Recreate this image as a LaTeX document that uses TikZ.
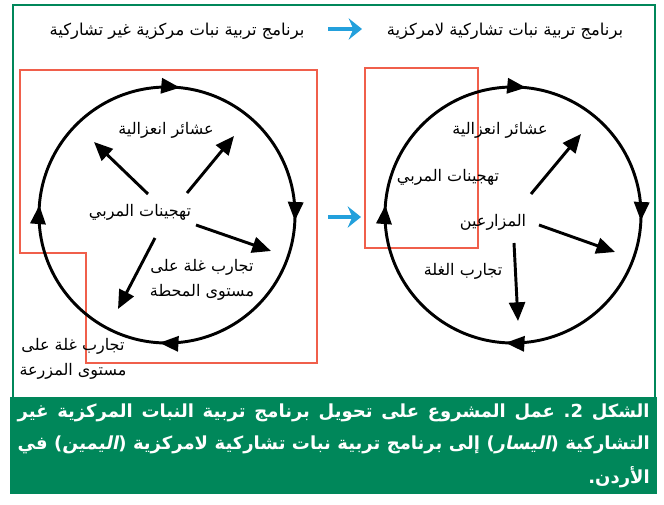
\documentclass[tikz,border=0pt]{standalone}
\usepackage{fontspec}
\usetikzlibrary{arrows.meta,decorations.markings,positioning}
\TeXXeTstate=1
\frenchspacing
\newfontfamily\arabicfont[Script=Arabic]{DejaVu Sans}
\newfontfamily\arabicslant[Script=Arabic,FakeSlant=0.2]{DejaVu Sans Bold}
\definecolor{framegreen}{RGB}{0,135,90}
\definecolor{zonered}{RGB}{240,95,75}
\definecolor{hintblue}{RGB}{35,160,220}

\tikzset{
  lbl/.style={font=\arabicfont\fontsize{12}{18.5}\selectfont, inner sep=1pt, align=center},
  ttl/.style={font=\arabicfont\fontsize{12.3}{14}\selectfont, inner sep=1pt},
  captxt/.style={font=\arabicfont\bfseries\fontsize{13.5}{16}\selectfont, text=white, anchor=east, inner sep=0pt},
  flow/.style={line width=2.2pt, -{Triangle[length=14pt,width=12pt]}},
  ring/.style={line width=2.2pt, postaction={decorate},
    decoration={markings,
      mark=at position 0.016 with {\arrow[line width=0pt]{Triangle[length=14pt,width=12pt]}},
      mark=at position 0.257 with {\arrow[line width=0pt]{Triangle[length=14pt,width=12pt]}},
      mark=at position 0.509 with {\arrow[line width=0pt]{Triangle[length=14pt,width=12pt]}},
      mark=at position 0.762 with {\arrow[line width=0pt]{Triangle[length=14pt,width=12pt]}}}},
  hint/.style={hintblue, line width=3pt, -{Stealth[length=10pt,width=16pt,inset=3.5pt]}},
  zone/.style={zonered, line width=1.5pt},
}

\begin{document}
\begin{tikzpicture}[x=0.75pt,y=-0.75pt]
  \useasboundingbox (0,0) rectangle (664,504);

  % frame and caption band
  \draw[framegreen, line width=1.6pt] (13,397) -- (13,5) -- (655,5) -- (655,397);
  \fill[framegreen] (10,397) rectangle (657,494);

  % titles
  \node[ttl, name=oldttl] at (177,31) {\beginR برنامج تربية نبات مركزية غير تشاركية\endR};
  \node[ttl, name=newttl] at (505,31) {\beginR برنامج تربية نبات تشاركية لامركزية\endR};
  \coordinate (tail1) at (328,29);
  \coordinate (tip1) at (362,29);
  \draw[hint] (tail1) -- (tip1);

  % left: centralised programme
  \draw[zone] (20,70) -- (317,70) -- (317,363) -- (86,363) -- (86,253) -- (20,253) -- cycle;
  \coordinate (lc) at (167,215);
  \draw[ring] (lc) ++(-90:128) arc[start angle=-90, end angle=270, radius=128];

  \node[lbl, name=lpop] at (166,130) {\beginR عشائر انعزالية\endR};
  \node[lbl, name=lbreed] at (140,212) {\beginR تهجينات المربي\endR};
  \node[lbl, name=lstation] at (202,280) {\beginR تجارب غلة على\endR\\\beginR مستوى المحطة\endR};
  \node[lbl, name=lfarm] at (73,359) {\beginR تجارب غلة على\endR\\\beginR مستوى المزرعة\endR};

  \coordinate (la1) at (148,194);
  \coordinate (la1t) at (94,142);
  \coordinate (la2) at (187,193);
  \coordinate (la2t) at (234,136);
  \coordinate (la3) at (196,225);
  \coordinate (la3t) at (271,251);
  \coordinate (la4) at (155,238);
  \coordinate (la4t) at (118,309);
  \draw[flow] (la1) -- (la1t);
  \draw[flow] (la2) -- (la2t);
  \draw[flow] (la3) -- (la3t);
  \draw[flow] (la4) -- (la4t);

  % shift arrow
  \coordinate (tail2) at (328,217);
  \coordinate (tip2) at (361,217);
  \draw[hint] (tail2) -- (tip2);

  % right: participatory programme
  \draw[zone] (365,68) rectangle (478,248);
  \coordinate (rc) at (513,215);
  \draw[ring] (rc) ++(-90:128) arc[start angle=-90, end angle=270, radius=128];

  \node[lbl, name=rpop] at (500,130) {\beginR عشائر انعزالية\endR};
  \node[lbl, name=rbreed] at (448,177) {\beginR تهجينات المربي\endR};
  \node[lbl, name=rfarmer] at (493,222) {\beginR المزارعين\endR};
  \node[lbl, name=rtrial] at (463,271) {\beginR تجارب الغلة\endR};

  \coordinate (ra1) at (531,194);
  \coordinate (ra1t) at (581,134);
  \coordinate (ra2) at (539,225);
  \coordinate (ra2t) at (615,252);
  \coordinate (ra3) at (514,243);
  \coordinate (ra3t) at (518,321);
  \draw[flow] (ra1) -- (ra1t);
  \draw[flow] (ra2) -- (ra2t);
  \draw[flow] (ra3) -- (ra3t);

  % caption
  \node[captxt, name=cap1] at (650,413) {\makebox[474pt][s]{\beginR الشكل 2\kern0pt. عمل المشروع على تحويل برنامج تربية النبات المركزية غير\endR}};
  \node[captxt, name=cap2] at (650,445) {\makebox[474pt][s]{\beginR التشاركية ({\arabicslant اليسار}) إلى برنامج تربية نبات تشاركية لامركزية ({\arabicslant اليمين}) في\endR}};
  \node[captxt, name=cap3] at (650,477) {\beginR الأردن.\endR};
\end{tikzpicture}
\end{document}
